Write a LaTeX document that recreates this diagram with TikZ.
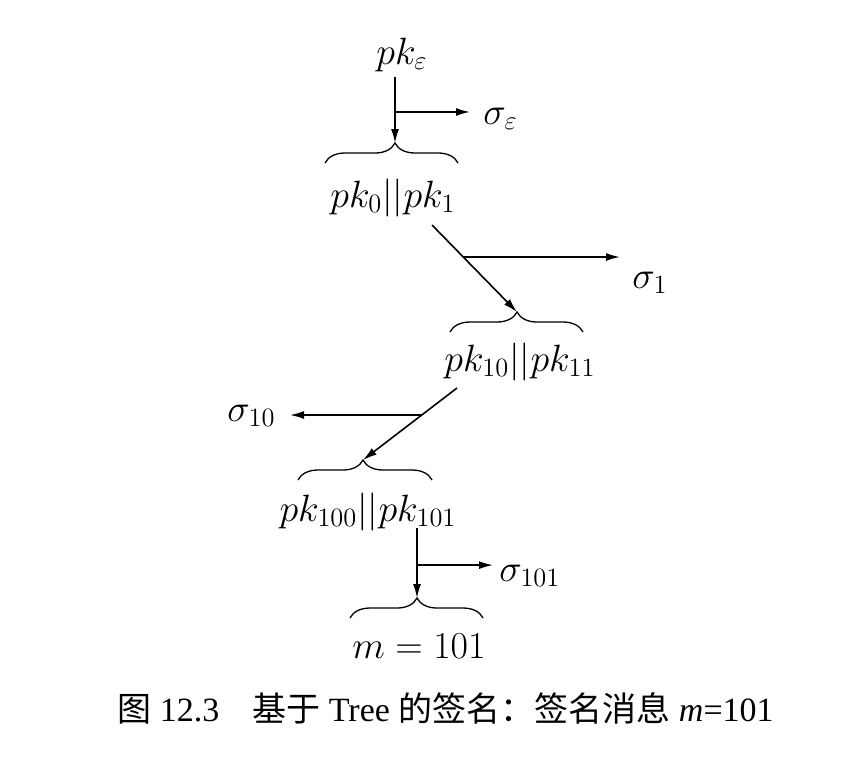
\documentclass[tikz,border=0pt]{standalone}
\usepackage{fontspec}
\newfontfamily\capfont{Liberation Serif}
\newfontfamily\cjk{Noto Sans CJK SC}
\usetikzlibrary{arrows.meta,decorations.pathreplacing,calc}
\newcommand\mth[1]{\scalebox{1.1}{$#1$}}
\tikzset{
  lbl/.style={inner sep=0pt, font=\fontsize{17.28}{21}\selectfont},
  captext/.style={inner sep=0pt, font=\fontsize{17}{21}\selectfont},
  arr/.style={line width=0.8pt, -{Latex[length=7pt,width=4pt]}},
  brc/.style={line width=0.65pt, decorate},
}
\begin{document}
\begin{tikzpicture}[x=0.5pt, y=-0.5pt]
\useasboundingbox (0,0) rectangle (862,783);
% labels
\node[lbl, anchor=base] (pke) at (402,64) {\mth{pk_\varepsilon}};
\node[lbl, anchor=base] (pk01) at (393,207) {\mth{pk_0||pk_1}};
\node[lbl, anchor=base] (pk1011) at (520,371) {\mth{pk_{10}||pk_{11}}};
\node[lbl, anchor=base] (pk100) at (368,521) {\mth{pk_{100}||pk_{101}}};
\node[lbl, anchor=base] (msg) at (419,658) {\mth{m=101}};
\node[lbl, anchor=base west] (se) at (483,124) {\mth{\sigma_\varepsilon}};
\node[lbl, anchor=base west] (s1) at (632,288) {\mth{\sigma_1}};
\node[lbl, anchor=base east] (s10) at (276,421) {\mth{\sigma_{10}}};
\node[lbl, anchor=base west] (s101) at (499,581) {\mth{\sigma_{101}}};
% braces
\draw[brc, decoration={brace, amplitude=10pt, aspect=0.526}] (325,163) -- (458,163);
\draw[brc, decoration={brace, amplitude=10pt, aspect=0.504}] (450,332) -- (583,332);
\draw[brc, decoration={brace, amplitude=10pt, aspect=0.485}] (298,480) -- (432,480);
\draw[brc, decoration={brace, amplitude=10pt, aspect=0.504}] (350,618) -- (483,618);
% brace tips and connector points
\coordinate (t1) at (395,143);
\coordinate (t2) at (517,312);
\coordinate (t3) at (363,460);
\coordinate (t4) at (417,598);
\coordinate (a1) at (395,77);
\coordinate (a2) at (432,225);
\coordinate (a3) at (457,388);
\coordinate (a4) at (417,528);
\coordinate (b1) at ($(a1)!0.53!(t1)$);
\coordinate (b2) at ($(a2)!0.368!(t2)$);
\coordinate (b3) at ($(a3)!0.375!(t3)$);
\coordinate (b4) at ($(a4)!0.53!(t4)$);
% main arrows
\draw[arr] (a1) -- (t1);
\draw[arr] (a2) -- (t2);
\draw[arr] (a3) -- (t3);
\draw[arr] (a4) -- (t4);
% signature branches
\draw[arr, shorten >=6.5pt] (b1) -- (b1 -| se.west);
\draw[arr, shorten >=6pt] (b2) -- (b2 -| s1.west);
\draw[arr, shorten >=7pt] (b3) -- (b3 -| s10.east);
\draw[arr, shorten >=3pt] (b4) -- (b4 -| s101.west);
% caption
\node[captext, anchor=base west] (capA) at (117,721) {\cjk 图\capfont\ 12.3};
\node[captext, anchor=base west] (capB) at (252,721) {\cjk 基于\capfont\ Tree \cjk 的签名：签名消息\capfont\ {\itshape m}=101};
\end{tikzpicture}
\end{document}
